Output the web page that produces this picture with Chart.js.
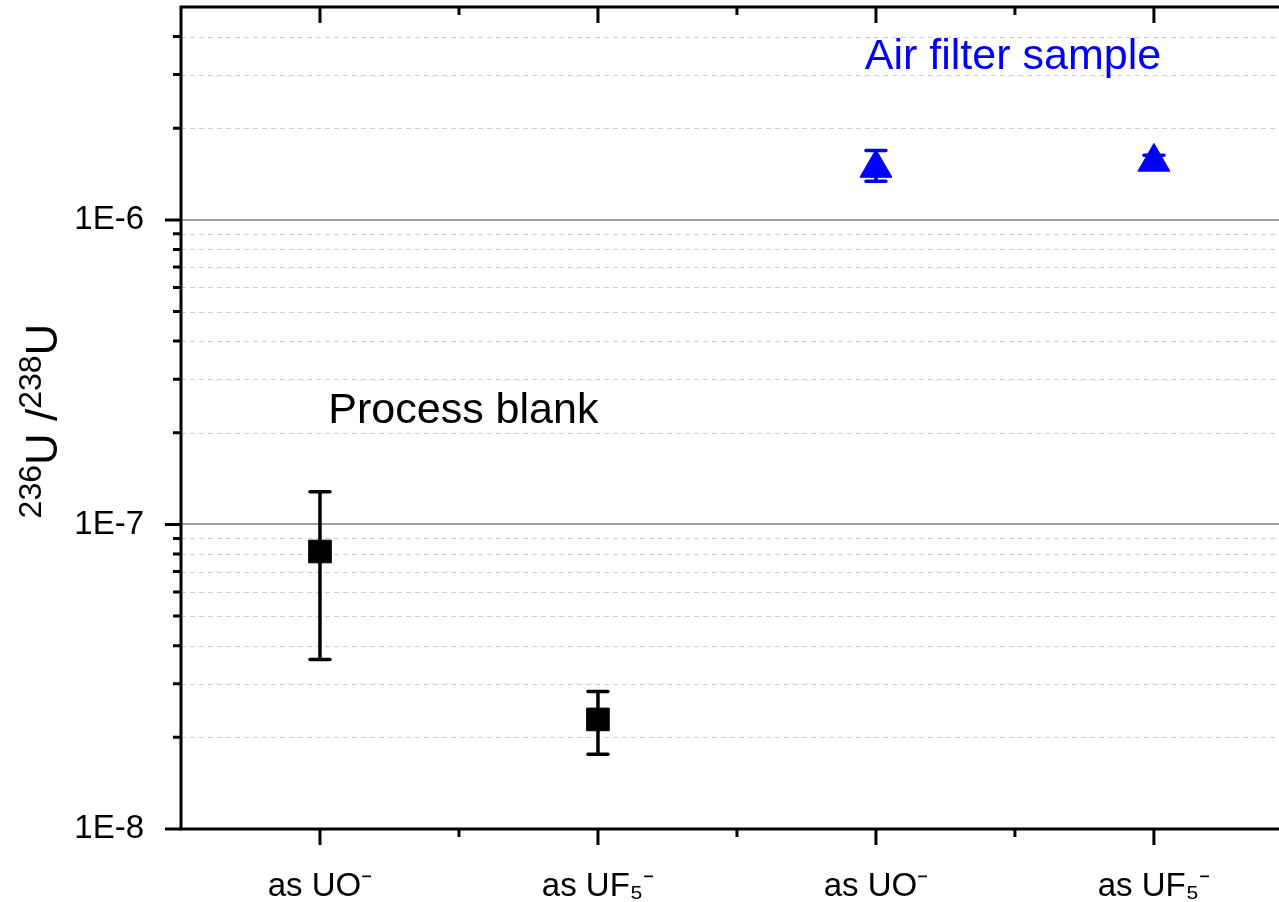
<!DOCTYPE html>
<html>
<head>
<meta charset="utf-8">
<script src="https://cdn.jsdelivr.net/npm/chart.js@4/dist/chart.umd.min.js"></script>
<style>
  html, body { margin: 0; padding: 0; background: #fff; overflow: hidden; }
  canvas { display: block; }
</style>
</head>
<body>
<canvas id="myChart" width="1279" height="902"></canvas>
<script>
// categories along x (positions 1..4)
const categories = ['as UO⁻', 'as UF₅⁻', 'as UO⁻', 'as UF₅⁻'];

// process blank (black squares)
const blankX = [1, 2];
const blankY = [8.15e-8, 2.29e-8];
const blankLow = [3.6e-8, 1.76e-8];
const blankHigh = [1.28e-7, 2.83e-8];

// air filter sample (blue triangles)
const airX = [3, 4];
const airY = [1.48e-6, 1.55e-6];
const airLow = [1.34e-6, 1.47e-6];
const airHigh = [1.69e-6, 1.63e-6];

const yTickValues = [1e-8, 1e-7, 1e-6];
const yTickLabels = ['1E-8', '1E-7', '1E-6'];
const yMin = 1e-8;
const yMax = 5e-6;

const FONT = "'Liberation Sans', Arial, sans-serif";
const BLUE = '#0000FF';

// minor log positions 2..9 in each decade
function minorValues() {
  const out = [];
  yTickValues.forEach(d => {
    for (let s = 2; s <= 9; s++) {
      const v = s * d;
      if (v < yMax * 0.999) out.push(v);
    }
  });
  return out;
}

const ctx = document.getElementById('myChart').getContext('2d');

const decoration = {
  id: 'decoration',
  beforeDatasetsDraw(chart) {
    const c = chart.ctx;
    const a = chart.chartArea;
    const xs = chart.scales.x, ys = chart.scales.y;
    c.save();
    // minor grid
    c.strokeStyle = '#d0d0d0';
    c.lineWidth = 1.2;
    c.setLineDash([5, 4]);
    c.beginPath();
    minorValues().forEach(v => {
      const py = Math.round(ys.getPixelForValue(v)) + 0.5;
      c.moveTo(a.left, py); c.lineTo(a.right, py);
    });
    c.stroke();
    // major grid
    c.setLineDash([]);
    c.strokeStyle = '#a0a0a0';
    c.lineWidth = 2;
    c.beginPath();
    yTickValues.forEach(v => {
      const py = Math.round(ys.getPixelForValue(v));
      c.moveTo(a.left, py); c.lineTo(a.right, py);
    });
    c.stroke();

    // error bars
    const bars = [
      { x: blankX, lo: blankLow, hi: blankHigh, color: '#000' },
      { x: airX, lo: airLow, hi: airHigh, color: BLUE }
    ];
    c.lineWidth = 3.5;
    c.lineCap = 'round';
    bars.forEach(b => {
      c.strokeStyle = b.color;
      b.x.forEach((xv, i) => {
        const px = xs.getPixelForValue(xv);
        const top = ys.getPixelForValue(b.hi[i]);
        const bot = ys.getPixelForValue(b.lo[i]);
        c.beginPath();
        c.moveTo(px, top); c.lineTo(px, bot);
        c.moveTo(px - 10, top); c.lineTo(px + 10, top);
        c.moveTo(px - 10, bot); c.lineTo(px + 10, bot);
        c.stroke();
      });
    });
    c.restore();
  },
  afterDraw(chart) {
    const c = chart.ctx;
    const a = chart.chartArea;
    const xs = chart.scales.x, ys = chart.scales.y;
    c.save();
    c.strokeStyle = '#000';
    c.lineWidth = 3;
    c.lineCap = 'butt';
    // axis lines: left, bottom, top
    c.beginPath();
    c.moveTo(a.left, a.top - 1.5); c.lineTo(a.left, a.bottom + 1.5);
    c.moveTo(a.left - 1.5, a.bottom); c.lineTo(a.right, a.bottom);
    c.moveTo(a.left - 1.5, a.top); c.lineTo(a.right, a.top);
    c.stroke();
    // y ticks (outward)
    c.beginPath();
    yTickValues.forEach(v => {
      const py = ys.getPixelForValue(v);
      c.moveTo(a.left - 16, py); c.lineTo(a.left, py);
    });
    minorValues().forEach(v => {
      const py = ys.getPixelForValue(v);
      c.moveTo(a.left - 8, py); c.lineTo(a.left, py);
    });
    // x ticks: bottom outward, top inward, minor at half steps
    for (let v = 1; v <= 4.5; v += 0.5) {
      const px = xs.getPixelForValue(v);
      if (px > a.right) continue;
      const len = Number.isInteger(v) ? 16 : 8;
      c.moveTo(px, a.bottom); c.lineTo(px, a.bottom + len);
      c.moveTo(px, a.top); c.lineTo(px, a.top + len);
    }
    c.stroke();

    // y axis title: 236U / 238U
    const big = 44, small = 32, rise = 16;
    const parts = [
      { t: '236', s: small, dy: -rise },
      { t: 'U /', s: big, dy: 0 },
      { t: '238', s: small, dy: -rise },
      { t: 'U', s: big, dy: 0 }
    ];
    let total = 0;
    parts.forEach(p => { c.font = p.s + 'px ' + FONT; p.w = c.measureText(p.t).width; total += p.w; });
    c.translate(57, (a.top + a.bottom) / 2 + 3);
    c.rotate(-Math.PI / 2);
    c.fillStyle = '#000';
    c.textBaseline = 'alphabetic';
    c.textAlign = 'left';
    let off = -total / 2;
    parts.forEach(p => {
      c.font = p.s + 'px ' + FONT;
      c.fillText(p.t, off, p.dy);
      off += p.w;
    });
    c.restore();

    // group labels
    c.save();
    c.font = '43px ' + FONT;
    c.textBaseline = 'alphabetic';
    c.textAlign = 'left';
    c.fillStyle = '#000';
    c.fillText('Process blank', xs.getPixelForValue(1.03), ys.getPixelForValue(2.16e-7));
    c.fillStyle = BLUE;
    c.fillText('Air filter sample', xs.getPixelForValue(2.96), ys.getPixelForValue(3.13e-6));
    c.restore();
  }
};

new Chart(ctx, {
  type: 'scatter',
  data: {
    datasets: [
      {
        label: 'Process blank',
        data: blankX.map((x, i) => ({ x: x, y: blankY[i] })),
        pointStyle: 'rect',
        pointRadius: 16,
        pointHoverRadius: 16,
        backgroundColor: '#000',
        borderColor: '#000',
        borderWidth: 1
      },
      {
        label: 'Air filter sample',
        data: airX.map((x, i) => ({ x: x, y: airY[i] })),
        pointStyle: 'triangle',
        pointRadius: 18.5,
        pointHoverRadius: 18.5,
        backgroundColor: BLUE,
        borderColor: BLUE,
        borderWidth: 1
      }
    ]
  },
  plugins: [decoration],
  options: {
    responsive: false,
    animation: false,
    events: [],
    layout: { autoPadding: false, padding: { top: 7, right: 0, left: 0, bottom: 0 } },
    plugins: {
      legend: { display: false },
      tooltip: { enabled: false }
    },
    scales: {
      x: {
        type: 'linear',
        min: 0.5,
        max: 4.45,
        afterBuildTicks: scale => {
          scale.ticks = categories.map((c, i) => ({ value: i + 1 }));
        },
        afterFit: scale => {
          scale.height = 73;
          scale.paddingLeft = 0; scale.paddingRight = 0;
        },
        ticks: {
          autoSkip: false,
          maxRotation: 0,
          padding: 30,
          color: '#000',
          font: { family: FONT, size: 33 },
          callback: v => categories[Math.round(v) - 1]
        },
        grid: { display: false },
        border: { display: false }
      },
      y: {
        type: 'logarithmic',
        min: yMin,
        max: yMax,
        afterBuildTicks: scale => {
          scale.ticks = yTickValues.map(v => ({ value: v, major: true }));
        },
        afterFit: scale => {
          scale.width = 181;
          scale.paddingTop = 0; scale.paddingBottom = 0;
        },
        ticks: {
          autoSkip: false,
          padding: 29,
          color: '#000',
          font: { family: FONT, size: 33 },
          callback: v => {
            const k = yTickValues.findIndex(t => Math.abs(t - v) / t < 1e-6);
            return k >= 0 ? yTickLabels[k] : '';
          }
        },
        grid: { display: false },
        border: { display: false }
      }
    }
  }
});
</script>
</body>
</html>
